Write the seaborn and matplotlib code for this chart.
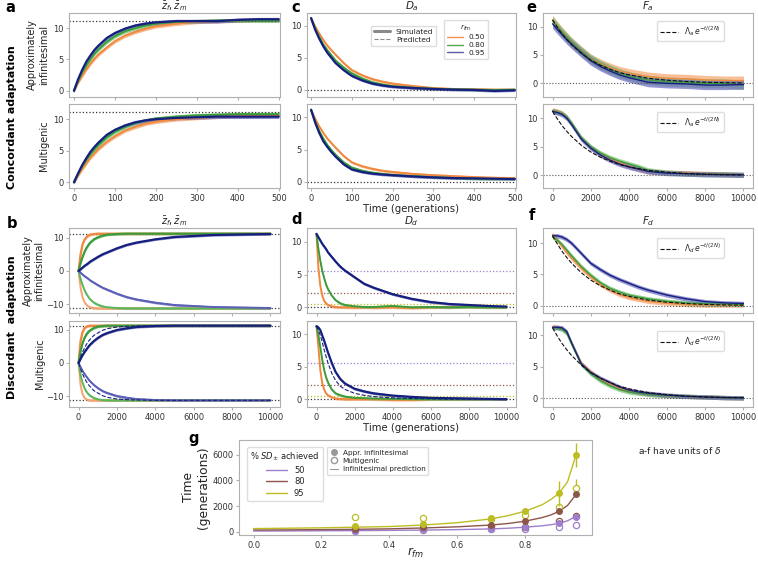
import numpy as np
import pandas as pd
import matplotlib
matplotlib.use("Agg")
import matplotlib.pyplot as plt
import seaborn as sns
from matplotlib.lines import Line2D

sns.set_theme(style="white")
plt.rcParams['font.family'] = ['DejaVu Sans']
plt.rcParams.update({
    'axes.edgecolor': '#b0b0b0', 'axes.linewidth': 0.8,
    'xtick.color': '#b0b0b0', 'ytick.color': '#b0b0b0',
    'xtick.labelcolor': '#333333', 'ytick.labelcolor': '#333333',
    'xtick.bottom': True, 'ytick.left': True,
    'xtick.major.size': 2.5, 'ytick.major.size': 2.5,
    'xtick.major.width': 0.8, 'ytick.major.width': 0.8,
    'xtick.labelsize': 6, 'ytick.labelsize': 6,
    'xtick.major.pad': 1.5, 'ytick.major.pad': 1.5,
    'axes.labelcolor': '#222222', 'text.color': '#222222',
    'mathtext.fontset': 'dejavusans',
})

# ---------------- data ----------------
OPT = 11.2                      # optimum distance (dotted lines)
SD_THRESH = [5.6, 2.24, 0.56]   # 50%, 80%, 95% SD achieved
RFM = ['0.50', '0.80', '0.95']

# panel a (z_f, z_m concordant), time 0..500
T_A = [0, 10, 20, 30, 40, 50, 60, 80, 100, 125, 150, 175, 200, 250, 300, 350, 400, 450, 500]
A_TOP_ORANGE = [0, 1.3, 2.4, 3.4, 4.3, 5.1, 5.8, 6.9, 7.9, 8.8, 9.4, 9.9, 10.3, 10.7, 11.0, 11.1, 11.2, 11.3, 11.3]
A_TOP_GREEN = [0, 1.5, 2.9, 4.0, 5.0, 5.9, 6.6, 7.8, 8.7, 9.5, 10.0, 10.4, 10.7, 11.0, 11.1, 11.2, 11.2, 11.2, 11.2]
A_TOP_BLUE = [0, 1.8, 3.3, 4.6, 5.6, 6.5, 7.2, 8.4, 9.2, 9.9, 10.4, 10.7, 10.9, 11.1, 11.1, 11.1, 11.3, 11.4, 11.4]
A_BOT_ORANGE = [0, 1.1, 2.1, 3.0, 3.9, 4.6, 5.3, 6.4, 7.3, 8.2, 8.8, 9.3, 9.6, 10.0, 10.2, 10.4, 10.5, 10.5, 10.6]
A_BOT_GREEN = [0, 1.3, 2.5, 3.5, 4.4, 5.2, 5.9, 7.1, 8.0, 8.8, 9.4, 9.8, 10.1, 10.4, 10.6, 10.7, 10.8, 10.8, 10.8]
A_BOT_BLUE = [0, 1.4, 2.7, 3.8, 4.8, 5.6, 6.3, 7.5, 8.3, 9.0, 9.5, 9.8, 10.0, 10.2, 10.3, 10.4, 10.4, 10.4, 10.4]

# panel c (D_a), same time grid
C_TOP_ORANGE = [11.2, 9.9, 8.8, 7.8, 6.9, 6.2, 5.5, 4.2, 3.1, 2.3, 1.7, 1.3, 1.0, 0.6, 0.3, 0.15, 0.1, 0.05, 0.05]
C_TOP_GREEN = [11.2, 9.6, 8.3, 7.1, 6.2, 5.4, 4.6, 3.5, 2.6, 1.8, 1.2, 0.85, 0.6, 0.35, 0.2, 0.1, 0.05, 0.0, 0.05]
C_TOP_BLUE = [11.2, 9.4, 8.0, 6.8, 5.8, 5.0, 4.2, 3.1, 2.2, 1.5, 1.0, 0.7, 0.5, 0.3, 0.15, 0.05, 0.0, -0.15, -0.05]
C_BOT_ORANGE = [11.2, 9.8, 8.6, 7.6, 6.7, 6.0, 5.3, 4.0, 3.0, 2.4, 2.0, 1.7, 1.5, 1.2, 1.0, 0.85, 0.7, 0.6, 0.55]
C_BOT_GREEN = [11.2, 9.4, 7.9, 6.7, 5.7, 4.9, 4.2, 3.0, 2.2, 1.7, 1.4, 1.2, 1.05, 0.85, 0.7, 0.55, 0.45, 0.4, 0.4]
C_BOT_BLUE = [11.2, 9.2, 7.6, 6.3, 5.4, 4.6, 3.9, 2.7, 1.9, 1.5, 1.25, 1.1, 1.0, 0.8, 0.65, 0.55, 0.5, 0.45, 0.4]

# panel b (z_f upper, z_m lower, discordant), time 0..10000
T_B = [0, 100, 200, 300, 400, 500, 600, 800, 1000, 1250, 1500, 2000, 2500, 3000, 4000, 5000, 6000, 7000, 8000, 9000, 10000]
B_TOP_ORANGE_F = [0, 4.9, 7.8, 9.3, 10.1, 10.6, 10.9, 11.1, 11.2, 11.2, 11.2, 11.2, 11.2, 11.2, 11.2, 11.2, 11.2, 11.2, 11.2, 11.2, 11.2]
B_TOP_ORANGE_M = [0, -4.9, -7.8, -9.3, -10.1, -10.6, -10.9, -11.1, -11.2, -11.2, -11.2, -11.2, -11.2, -11.2, -11.2, -11.2, -11.2, -11.2, -11.2, -11.2, -11.2]
B_TOP_GREEN_F = [0, 2.3, 4.1, 5.6, 6.8, 7.7, 8.5, 9.5, 10.1, 10.6, 10.9, 11.1, 11.2, 11.2, 11.2, 11.2, 11.2, 11.2, 11.2, 11.2, 11.2]
B_TOP_GREEN_M = [0, -2.3, -4.1, -5.6, -6.8, -7.7, -8.5, -9.5, -10.1, -10.6, -10.9, -11.1, -11.2, -11.2, -11.2, -11.2, -11.2, -11.2, -11.2, -11.2, -11.2]
B_TOP_BLUE_F = [0, 0.5, 1.0, 1.5, 1.9, 2.3, 2.8, 3.5, 4.2, 5.0, 5.6, 6.8, 7.8, 8.5, 9.5, 10.2, 10.5, 10.8, 10.9, 11.0, 11.1]
B_TOP_BLUE_M = [0, -0.5, -1.0, -1.5, -1.9, -2.3, -2.8, -3.5, -4.2, -5.0, -5.6, -6.8, -7.8, -8.5, -9.5, -10.2, -10.5, -10.8, -10.9, -11.0, -11.1]
B_BOT_ORANGE_F = [0, 6.5, 9.2, 10.4, 10.9, 11.1, 11.2, 11.2, 11.2, 11.2, 11.2, 11.2, 11.2, 11.2, 11.2, 11.2, 11.2, 11.2, 11.2, 11.2, 11.2]
B_BOT_ORANGE_M = [0, -6.5, -9.2, -10.4, -10.9, -11.1, -11.2, -11.2, -11.2, -11.2, -11.2, -11.2, -11.2, -11.2, -11.2, -11.2, -11.2, -11.2, -11.2, -11.2, -11.2]
B_BOT_GREEN_F = [0, 3.5, 5.8, 7.4, 8.5, 9.3, 9.8, 10.5, 10.9, 11.1, 11.2, 11.2, 11.2, 11.2, 11.2, 11.2, 11.2, 11.2, 11.2, 11.2, 11.2]
B_BOT_GREEN_M = [0, -3.5, -5.8, -7.4, -8.5, -9.3, -9.8, -10.5, -10.9, -11.1, -11.2, -11.2, -11.2, -11.2, -11.2, -11.2, -11.2, -11.2, -11.2, -11.2, -11.2]
B_BOT_BLUE_F = [0, 1.2, 2.3, 3.2, 4.0, 4.8, 5.5, 6.6, 7.5, 8.4, 9.0, 9.9, 10.4, 10.8, 11.1, 11.2, 11.2, 11.2, 11.2, 11.2, 11.2]
B_BOT_BLUE_M = [0, -1.2, -2.3, -3.2, -4.0, -4.8, -5.5, -6.6, -7.5, -8.4, -9.0, -9.9, -10.4, -10.8, -11.1, -11.2, -11.2, -11.2, -11.2, -11.2, -11.2]
B_BOT_BLUE_PRED_F = [0, 1.7, 3.2, 4.4, 5.5, 6.4, 7.1, 8.3, 9.0, 9.8, 10.3, 10.8, 11.0, 11.1, 11.2, 11.2, 11.2, 11.2, 11.2, 11.2, 11.2]
B_BOT_BLUE_PRED_M = [0, -1.7, -3.2, -4.4, -5.5, -6.4, -7.1, -8.3, -9.0, -9.8, -10.3, -10.8, -11.0, -11.1, -11.2, -11.2, -11.2, -11.2, -11.2, -11.2, -11.2]

# panel d (D_d), time grid T_B
D_TOP_ORANGE = [11.2, 6.0, 3.3, 1.8, 1.0, 0.6, 0.35, 0.15, 0.05, 0.0, 0.0, -0.05, 0.0, -0.05, 0.0, -0.1, 0.0, 0.0, 0.05, 0.0, 0.0]
D_TOP_GREEN = [11.2, 8.9, 7.1, 5.6, 4.5, 3.5, 2.8, 1.8, 1.1, 0.6, 0.35, 0.15, 0.05, 0.05, 0.2, 0.0, 0.05, 0.0, 0.05, 0.0, 0.0]
D_TOP_BLUE = [11.2, 10.7, 10.2, 9.7, 9.3, 8.9, 8.4, 7.7, 7.0, 6.2, 5.6, 4.6, 3.6, 3.0, 2.0, 1.3, 0.8, 0.5, 0.35, 0.2, 0.1]
D_BOT_ORANGE = [11.2, 8.0, 4.5, 2.5, 1.5, 0.9, 0.6, 0.3, 0.1, 0.05, 0.0, 0.0, 0.0, 0.0, -0.1, -0.1, 0.0, 0.0, 0.0, 0.0, 0.0]
D_BOT_GREEN = [11.2, 9.8, 8.0, 6.1, 4.5, 3.4, 2.6, 1.5, 0.9, 0.6, 0.4, 0.2, 0.15, 0.1, 0.05, 0.0, 0.0, 0.0, 0.0, 0.0, 0.0]
D_BOT_BLUE = [11.2, 11.0, 10.6, 9.8, 9.0, 8.1, 7.2, 5.6, 4.2, 3.1, 2.4, 1.6, 1.2, 0.9, 0.55, 0.35, 0.2, 0.15, 0.1, 0.05, 0.0]
D_BOT_BLUE_PRED = [11.2, 10.6, 9.8, 8.8, 7.6, 6.6, 5.6, 4.0, 2.9, 2.0, 1.5, 0.9, 0.6, 0.4, 0.2, 0.1, 0.05, 0.0, 0.0, 0.0, 0.0]

# panels e, f (F_a, F_d)
T_E = [0, 250, 500, 750, 1000, 1500, 2000, 2500, 3000, 3500, 4000, 4500, 5000, 6000, 7000, 8000, 9000, 10000]
E_PRED = [11.2, 9.9, 8.7, 7.7, 6.8, 5.3, 4.1, 3.2, 2.5, 1.9, 1.5, 1.2, 0.9, 0.56, 0.34, 0.2, 0.12, 0.08]
E_TOP_ORANGE = [11.2, 10.1, 9.1, 8.2, 7.3, 5.8, 4.4, 3.5, 2.8, 2.2, 1.8, 1.5, 1.2, 0.9, 0.8, 0.6, 0.5, 0.5]
E_TOP_GREEN = [11.0, 10.0, 9.0, 8.1, 7.2, 5.7, 4.3, 3.3, 2.5, 1.8, 1.3, 0.9, 0.6, 0.3, 0.2, 0.0, 0.0, -0.3]
E_TOP_BLUE = [10.5, 9.5, 8.6, 7.7, 6.9, 5.4, 4.0, 3.0, 2.2, 1.5, 1.0, 0.6, 0.2, 0.0, -0.1, -0.3, -0.3, -0.2]
E_BOT_ORANGE = [11.4, 11.2, 10.9, 10.2, 9.0, 6.5, 4.9, 3.8, 2.9, 2.2, 1.6, 1.1, 0.7, 0.5, 0.4, 0.3, 0.2, 0.1]
E_BOT_GREEN = [11.3, 11.1, 10.8, 10.2, 9.1, 6.6, 5.0, 3.9, 3.1, 2.5, 2.0, 1.5, 0.9, 0.5, 0.3, 0.2, 0.2, 0.1]
E_BOT_BLUE = [11.2, 11.0, 10.7, 10.0, 8.9, 6.4, 4.8, 3.6, 2.7, 2.0, 1.5, 1.1, 0.7, 0.4, 0.3, 0.2, 0.15, 0.1]
F_TOP_ORANGE = [11.4, 10.5, 9.5, 8.5, 7.6, 6.0, 4.6, 3.4, 2.5, 1.8, 1.3, 1.0, 0.7, 0.4, 0.2, 0.1, 0.1, 0.1]
F_TOP_GREEN = [11.0, 10.5, 9.8, 8.9, 8.0, 6.3, 4.9, 3.7, 2.8, 2.2, 1.7, 1.4, 1.1, 0.7, 0.45, 0.3, 0.25, 0.2]
F_TOP_BLUE = [11.2, 11.2, 11.0, 10.6, 10.0, 8.4, 6.8, 5.8, 4.9, 4.2, 3.6, 3.0, 2.5, 1.7, 1.1, 0.65, 0.45, 0.35]
F_BOT_ORANGE = [11.4, 11.3, 11.1, 10.5, 8.8, 5.6, 4.2, 3.1, 2.3, 1.6, 1.2, 0.9, 0.7, 0.4, 0.3, 0.2, 0.1, 0.05]
F_BOT_GREEN = [11.2, 11.2, 11.0, 10.3, 8.6, 5.4, 3.9, 2.8, 2.0, 1.4, 1.0, 0.8, 0.6, 0.4, 0.3, 0.2, 0.1, 0.05]
F_BOT_BLUE = [11.3, 11.3, 11.2, 10.6, 8.8, 5.5, 4.1, 3.2, 2.5, 1.8, 1.3, 1.0, 0.8, 0.5, 0.3, 0.2, 0.1, 0.05]

# band half-widths (simulation spread) per panel
SPREAD = {'a': 0.3, 'c': 0.2, 'b': 0.35, 'd': 0.2, 'e1': 0.8, 'e2': 0.45, 'f1': 0.35, 'f2': 0.35}

# panel g
R_SIM = [0.3, 0.5, 0.7, 0.8, 0.9, 0.95]
INF_50 = [80, 180, 210, 330, 700, 1150]
INF_80 = [180, 340, 520, 835, 1590, 2920]
INF_95 = [440, 575, 1040, 1620, 3000, 6000]
INF_95_ERR = [60, 80, 120, 180, 970, 930]
MUL_50 = [60, 130, 170, 235, 340, 560]
MUL_80 = [170, 320, 480, 390, 810, 1230]
MUL_95 = [1120, 1040, 1000, 1280, 1960, 3390]
MUL_95_ERR = [80, 80, 120, 200, 300, 700]
R_PRED = [0.0, 0.1, 0.2, 0.3, 0.4, 0.5, 0.6, 0.7, 0.75, 0.8, 0.85, 0.875, 0.9, 0.925, 0.95]
PRED_50 = [50, 55, 70, 80, 100, 125, 160, 215, 270, 350, 460, 540, 650, 850, 1200]
PRED_80 = [130, 140, 160, 185, 220, 290, 380, 520, 640, 820, 1100, 1300, 1580, 2050, 2900]
PRED_95 = [240, 270, 300, 350, 400, 520, 700, 1000, 1250, 1600, 2100, 2500, 3000, 3900, 6000]
SD_LABELS = ['50', '80', '95']

# ---------------- styling ----------------
BAND = {'o': '#f6a36c', 'g': '#6fbf6f', 'b': '#6a6ac0'}
LINE = {'o': '#f0883e', 'g': '#3c9c3c', 'b': '#15207e'}
LINE_M = {'o': '#f7a56f', 'g': '#5cb65c', 'b': '#5b5fb5'}
LEG = {'o': '#f4934f', 'g': '#4ea84e', 'b': '#5d5aaa'}
SDC = ['#9e7fcc', '#8c564b', '#bcbd22']

W, H = 758, 562
fig = plt.figure(figsize=(W / 100, H / 100), dpi=100)


def add_ax(l, t, r, b):
    return fig.add_axes([l / W, 1 - b / H, (r - l) / W, (b - t) / H])


def band(ax, t, y, key, spread, line=LINE, lw=1.4, alpha=0.75):
    y = np.asarray(y, dtype=float)
    ax.fill_between(t, y - spread, y + spread, color=BAND[key], alpha=alpha, lw=0)
    sns.lineplot(x=t, y=y, ax=ax, color=line[key], lw=lw)


def style(ax, xlim, ylim, xticks, yticks, showx):
    ax.set_xlim(*xlim)
    ax.set_ylim(*ylim)
    ax.set_xticks(xticks)
    ax.set_yticks(yticks)
    if not showx:
        ax.set_xticklabels([])
    ax.set_xlabel('')
    ax.set_ylabel('')


XA = (-12, 503)
XB = (-500, 10500)
TA_TICKS = [0, 100, 200, 300, 400, 500]
TB_TICKS = [0, 2000, 4000, 6000, 8000, 10000]

# ---- panel a ----
a1 = add_ax(69, 13, 280, 97)
a2 = add_ax(69, 104, 280, 188)
for ax, o, g, b in [(a1, A_TOP_ORANGE, A_TOP_GREEN, A_TOP_BLUE), (a2, A_BOT_ORANGE, A_BOT_GREEN, A_BOT_BLUE)]:
    ax.axhline(OPT, color='#333333', ls=':', lw=0.9)
    band(ax, T_A, o, 'o', SPREAD['a'])
    band(ax, T_A, g, 'g', SPREAD['a'])
    band(ax, T_A, b, 'b', SPREAD['a'], lw=1.6)
style(a1, XA, (-1.0, 12.4), TA_TICKS, [0, 5, 10], False)
style(a2, XA, (-0.9, 12.4), TA_TICKS, [0, 5, 10], True)
a1.set_title(r'$\bar{z}_f, \bar{z}_m$', fontsize=7, pad=2)
a1.set_ylabel('Approximately\ninfinitesimal', fontsize=7, labelpad=3)
a2.set_ylabel('Multigenic', fontsize=7, labelpad=3)

# ---- panel c ----
c1 = add_ax(307, 13, 516, 97)
c2 = add_ax(307, 104, 516, 188)
for ax, o, g, b in [(c1, C_TOP_ORANGE, C_TOP_GREEN, C_TOP_BLUE), (c2, C_BOT_ORANGE, C_BOT_GREEN, C_BOT_BLUE)]:
    ax.axhline(0, color='#333333', ls=':', lw=0.9)
    band(ax, T_A, o, 'o', SPREAD['c'])
    band(ax, T_A, g, 'g', SPREAD['c'])
    band(ax, T_A, b, 'b', SPREAD['c'], lw=1.6)
style(c1, (-10, 503), (-1.1, 12.0), TA_TICKS, [0, 5, 10], False)
style(c2, (-10, 503), (-1.0, 12.1), TA_TICKS, [0, 5, 10], True)
c1.set_title(r'$D_a$', fontsize=7.5, pad=2)
c2.set_xlabel('Time (generations)', fontsize=7.3, labelpad=1)
leg1 = c1.legend(handles=[Line2D([], [], color='#8a8a8a', lw=2.2),
                          Line2D([], [], color='#8a8a8a', lw=0.8, ls='--')],
                 labels=['Simulated', 'Predicted'], loc='upper right',
                 bbox_to_anchor=(0.636, 0.89), fontsize=5.3, handlelength=2.2,
                 frameon=True, edgecolor='#dddddd', framealpha=1, borderpad=0.4,
                 labelspacing=0.2, handletextpad=0.8)
c1.add_artist(leg1)
c1.legend(handles=[Line2D([], [], color=LEG[k], lw=1.0) for k in ['o', 'g', 'b']],
          labels=RFM, title=r'$r_{fm}$', title_fontsize=5.3, loc='upper right',
          bbox_to_anchor=(0.885, 0.964), fontsize=5.3, handlelength=2.2,
          frameon=True, edgecolor='#dddddd', framealpha=1, borderpad=0.4,
          labelspacing=0.2, handletextpad=0.8)

# ---- panel e ----
e1 = add_ax(543, 13, 753, 97)
e2 = add_ax(543, 104, 753, 188)
for ax, o, g, b, sp in [(e1, E_TOP_ORANGE, E_TOP_GREEN, E_TOP_BLUE, SPREAD['e1']),
                        (e2, E_BOT_ORANGE, E_BOT_GREEN, E_BOT_BLUE, SPREAD['e2'])]:
    ax.axhline(0, color='#555555', ls=':', lw=0.8)
    band(ax, T_E, o, 'o', sp, lw=1.0, alpha=0.7)
    band(ax, T_E, g, 'g', sp, lw=1.0, alpha=0.7)
    band(ax, T_E, b, 'b', sp, lw=1.0, alpha=0.7)
    sns.lineplot(x=T_E, y=E_PRED, ax=ax, color='#111111', lw=0.8, ls='--')
    ax.legend(handles=[Line2D([], [], color='#111111', lw=0.8, ls='--')],
              labels=[r'$\Lambda_a\, e^{-t/(2N)}$'], loc='upper right',
              bbox_to_anchor=(0.88, 0.95), fontsize=5.5, frameon=True,
              edgecolor='#dddddd', framealpha=1, handlelength=2.4)
style(e1, XB, (-2.4, 12.4), TB_TICKS, [0, 5, 10], False)
style(e2, XB, (-2.2, 12.5), TB_TICKS, [0, 5, 10], True)
e1.set_title(r'$F_a$', fontsize=7.5, pad=2)

# ---- panel b ----
b1 = add_ax(69, 228, 280, 313)
b2 = add_ax(69, 321, 280, 407)
for ax, sets in [(b1, [(B_TOP_ORANGE_F, B_TOP_ORANGE_M, 'o'), (B_TOP_GREEN_F, B_TOP_GREEN_M, 'g'), (B_TOP_BLUE_F, B_TOP_BLUE_M, 'b')]),
                 (b2, [(B_BOT_ORANGE_F, B_BOT_ORANGE_M, 'o'), (B_BOT_GREEN_F, B_BOT_GREEN_M, 'g'), (B_BOT_BLUE_F, B_BOT_BLUE_M, 'b')])]:
    ax.axhline(OPT, color='#333333', ls=':', lw=0.9)
    ax.axhline(-OPT, color='#333333', ls=':', lw=0.9)
    for f_, m_, k in sets:
        band(ax, T_B, m_, k, SPREAD['b'], line=LINE_M, lw=1.4)
        band(ax, T_B, f_, k, SPREAD['b'], lw=1.6)
sns.lineplot(x=T_B, y=B_BOT_BLUE_PRED_F, ax=b2, color=LINE['b'], lw=0.8, ls='--')
sns.lineplot(x=T_B, y=B_BOT_BLUE_PRED_M, ax=b2, color=LINE['b'], lw=0.8, ls='--')
style(b1, XB, (-12.6, 12.9), TB_TICKS, [-10, 0, 10], False)
style(b2, XB, (-13.2, 12.6), TB_TICKS, [-10, 0, 10], True)
b1.set_title(r'$\bar{z}_f, \bar{z}_m$', fontsize=7, pad=2)
b1.set_ylabel('Approximately\ninfinitesimal', fontsize=7, labelpad=1)
b2.set_ylabel('Multigenic', fontsize=7, labelpad=1)

# ---- panel d ----
d1 = add_ax(307, 228, 516, 313)
d2 = add_ax(307, 321, 516, 407)
for ax, o, g, b in [(d1, D_TOP_ORANGE, D_TOP_GREEN, D_TOP_BLUE), (d2, D_BOT_ORANGE, D_BOT_GREEN, D_BOT_BLUE)]:
    ax.axhline(0, color='#333333', ls=':', lw=0.9)
    for thr, col in zip(SD_THRESH, SDC):
        ax.axhline(thr, color=col, ls=':', lw=0.9)
    band(ax, T_B, o, 'o', SPREAD['d'])
    band(ax, T_B, g, 'g', SPREAD['d'])
    band(ax, T_B, b, 'b', SPREAD['d'], lw=1.6)
sns.lineplot(x=T_B, y=D_BOT_BLUE_PRED, ax=d2, color=LINE['b'], lw=0.8, ls='--')
style(d1, XB, (-0.87, 12.1), TB_TICKS, [0, 5, 10], False)
style(d2, XB, (-1.2, 12.0), TB_TICKS, [0, 5, 10], True)
d1.set_title(r'$D_d$', fontsize=7.5, pad=2)
d2.set_xlabel('Time (generations)', fontsize=7.3, labelpad=1)

# ---- panel f ----
f1 = add_ax(543, 228, 753, 313)
f2 = add_ax(543, 321, 753, 407)
for ax, o, g, b, sp in [(f1, F_TOP_ORANGE, F_TOP_GREEN, F_TOP_BLUE, SPREAD['f1']),
                        (f2, F_BOT_ORANGE, F_BOT_GREEN, F_BOT_BLUE, SPREAD['f2'])]:
    ax.axhline(0, color='#555555', ls=':', lw=0.8)
    band(ax, T_E, o, 'o', sp, lw=1.0, alpha=0.7)
    band(ax, T_E, g, 'g', sp, lw=1.0, alpha=0.7)
    band(ax, T_E, b, 'b', sp, lw=1.0, alpha=0.7)
    sns.lineplot(x=T_E, y=E_PRED, ax=ax, color='#111111', lw=0.8, ls='--')
    ax.legend(handles=[Line2D([], [], color='#111111', lw=0.8, ls='--')],
              labels=[r'$\Lambda_d\, e^{-t/(2N)}$'], loc='upper right',
              bbox_to_anchor=(0.88, 0.93), fontsize=5.5, frameon=True,
              edgecolor='#dddddd', framealpha=1, handlelength=2.4)
style(f1, XB, (-1.17, 12.45), TB_TICKS, [0, 5, 10], False)
style(f2, XB, (-1.4, 12.3), TB_TICKS, [0, 5, 10], True)
f1.set_title(r'$F_d$', fontsize=7.5, pad=2)

# ---- panel g ----
g = add_ax(239, 440, 592, 535)
for pred, col in [(PRED_50, SDC[0]), (PRED_80, SDC[1]), (PRED_95, SDC[2])]:
    sns.lineplot(x=R_PRED, y=pred, ax=g, color=col, lw=1.0)
for inf, err, col in [(INF_50, None, SDC[0]), (INF_80, None, SDC[1]), (INF_95, INF_95_ERR, SDC[2])]:
    g.errorbar(R_SIM, inf, yerr=err, fmt='o', color=col, ms=4, elinewidth=1, capsize=0, zorder=3)
for mul, err, col in [(MUL_50, None, SDC[0]), (MUL_80, None, SDC[1]), (MUL_95, MUL_95_ERR, SDC[2])]:
    g.errorbar(R_SIM, mul, yerr=err, fmt='o', mfc='white', mec=col, color=col, ms=4.5,
               mew=0.9, elinewidth=1, capsize=0, zorder=2)
g.set_xlim(-0.043, 0.997)
g.set_ylim(-260, 7160)
g.set_xticks([0.0, 0.2, 0.4, 0.6, 0.8])
g.set_yticks([0, 2000, 4000, 6000])
g.set_xlabel(r'$r_{fm}$', fontsize=8.5)
g.xaxis.set_label_coords(0.5, -0.115)
g.set_ylabel('Time\n(generations)', fontsize=8.8, labelpad=2)
lg1 = g.legend(handles=[Line2D([], [], color=c, lw=1.0) for c in SDC], labels=SD_LABELS,
               title=r'% $SD_{\pm}$ achieved', title_fontsize=6, fontsize=6,
               loc='upper left', bbox_to_anchor=(0.011, 0.968), frameon=True,
               edgecolor='#dddddd', framealpha=1, handlelength=2.6, labelspacing=0.3,
               borderpad=0.4)
g.add_artist(lg1)
g.legend(handles=[Line2D([], [], ls='', marker='o', color='#999999', ms=4),
                  Line2D([], [], ls='', marker='o', mfc='white', mec='#999999', ms=4.5),
                  Line2D([], [], color='#999999', lw=0.8)],
         labels=['Appr. infinitesimal', 'Multigenic', 'Infinitesimal prediction'],
         fontsize=5.2, loc='upper left', bbox_to_anchor=(0.238, 0.968), frameon=True,
         edgecolor='#dddddd', framealpha=1, handlelength=1.2, labelspacing=0.3,
         borderpad=0.4, handletextpad=0.6)

fig.text(638 / W, 1 - 451 / H, r'a-f have units of $\delta$', fontsize=6.5, va='center', ha='left')

# panel letters and row labels
for lab, x, y in [('a', 10, 8), ('c', 296, 8), ('e', 531, 8), ('b', 12, 223), ('d', 297, 219), ('f', 532, 216), ('g', 194, 439)]:
    fig.text(x / W, 1 - y / H, lab, fontsize=10.5, fontweight='bold', ha='center', va='center', color='black')
fig.text(12 / W, 1 - 117 / H, 'Concordant adaptation', rotation=90, fontsize=8,
         fontweight='bold', ha='center', va='center', color='black')
fig.text(12 / W, 1 - 327 / H, 'Discordant  adaptation', rotation=90, fontsize=8,
         fontweight='bold', ha='center', va='center', color='black')

fig.savefig('out.png', dpi=100)
